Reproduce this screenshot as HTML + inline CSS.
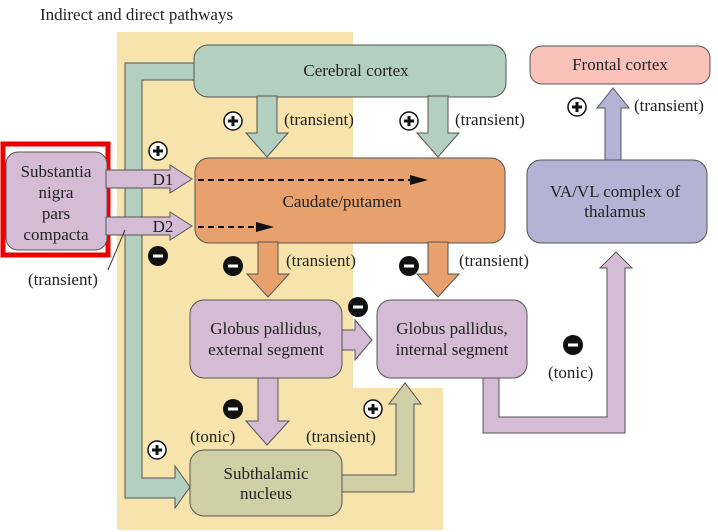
<!DOCTYPE html>
<html><head><meta charset="utf-8"><style>
html,body{margin:0;padding:0;background:#fff}
svg{display:block}
svg text{font-family:"Liberation Serif",serif;font-size:17px;fill:#222}
.b{stroke:#555;stroke-width:1}
</style></head><body>
<svg width="718" height="532" viewBox="0 0 718 532" font-family="Liberation Serif, serif" font-size="17">
<text x="40" y="20" style="font-size:17px">Indirect and direct pathways</text>
<polygon points="117,32 353,32 353,388 443,388 443,530 117,530" fill="#f6e4ac"/>
<polygon class="b" fill="#b3cfc0" points="200,63 125,63 125,498 175,498 175,508 190,487 175,466 175,478 142,478 142,80 200,80"/>
<rect class="b" x="194" y="45" width="312" height="52" rx="14" fill="#b3cfc0"/>
<polygon class="b" fill="#b3cfc0" points="257,96 277,96 277,133 288,133 267,157 246,133 257,133"/>
<polygon class="b" fill="#b3cfc0" points="428,96 448,96 448,133 459,133 438,157 417,133 428,133"/>
<rect x="195" y="64" width="2" height="15" fill="#b3cfc0"/>
<text x="356" y="76" text-anchor="middle">Cerebral cortex</text>
<rect x="3" y="144" width="105" height="111" fill="none" stroke="#e00" stroke-width="5"/>
<rect class="b" x="6" y="152" width="101" height="98" rx="12" fill="#d4bcd4"/>
<polygon class="b" fill="#d4bcd4" points="106,170 170,170 170,165 192,179 170,193 170,188 106,188"/>
<polygon class="b" fill="#d4bcd4" points="106,217 170,217 170,212 192,226 170,240 170,235 106,235"/>
<text x="56" y="177" text-anchor="middle">Substantia</text>
<text x="56" y="198" text-anchor="middle">nigra</text>
<text x="56" y="219" text-anchor="middle">pars</text>
<text x="56" y="240" text-anchor="middle">compacta</text>
<text x="163" y="185" text-anchor="middle">D1</text>
<text x="163" y="232" text-anchor="middle">D2</text>
<line x1="125" y1="230" x2="108" y2="270" stroke="#333"/>
<text x="28" y="285">(transient)</text>
<rect class="b" x="195" y="158" width="310" height="85" rx="14" fill="#e8a06c"/>
<line x1="198" y1="180" x2="412" y2="180" stroke="#111" stroke-width="2" stroke-dasharray="6,4"/>
<polygon points="410,175 428,180 410,185" fill="#111"/>
<line x1="198" y1="227" x2="258" y2="227" stroke="#111" stroke-width="2" stroke-dasharray="6,4"/>
<polygon points="256,222 274,227 256,232" fill="#111"/>
<text x="342" y="207" text-anchor="middle">Caudate/putamen</text>
<polygon class="b" fill="#e8a06c" points="258,242 278,242 278,274 289,274 268,297 247,274 258,274"/>
<polygon class="b" fill="#e8a06c" points="428,242 448,242 448,274 459,274 438,297 417,274 428,274"/>
<polygon class="b" fill="#d4bcd4" points="340,330 355,330 355,320 372,340 355,360 355,350 340,350"/>
<polygon class="b" fill="#d4bcd4" points="258,376 278,376 278,421 289,421 267,445 246,421 258,421"/>
<rect class="b" x="190" y="300" width="152" height="78" rx="14" fill="#d4bcd4"/>
<text x="266" y="334" text-anchor="middle">Globus pallidus,</text>
<text x="266" y="355" text-anchor="middle">external segment</text>
<polygon class="b" fill="#d4bcd4" points="483,376 499,376 499,417 607,417 607,268 600,268 616,252 632,268 625,268 625,433 483,433"/>
<rect class="b" x="377" y="300" width="150" height="78" rx="14" fill="#d4bcd4"/>
<text x="452" y="334" text-anchor="middle">Globus pallidus,</text>
<text x="452" y="355" text-anchor="middle">internal segment</text>
<polygon class="b" fill="#d0cfa5" points="340,475 396,475 396,404 389,404 405,383 421,404 414,404 414,492 340,492"/>
<rect class="b" x="190" y="450" width="152" height="66" rx="14" fill="#d0cfa5"/>
<text x="266" y="479" text-anchor="middle">Subthalamic</text>
<text x="266" y="499" text-anchor="middle">nucleus</text>
<polygon class="b" fill="#b3b3d6" points="605,162 621,162 621,108 629,108 613,88 597,108 605,108"/>
<rect class="b" x="527" y="160" width="180" height="83" rx="14" fill="#b3b3d6"/>
<text x="615" y="197" text-anchor="middle">VA/VL complex of</text>
<text x="615" y="217" text-anchor="middle">thalamus</text>
<rect class="b" x="530" y="46" width="180" height="38" rx="12" fill="#f8c2b9"/>
<text x="620" y="70" text-anchor="middle">Frontal cortex</text>
<text x="284" y="125">(transient)</text>
<text x="455" y="125">(transient)</text>
<text x="634" y="111">(transient)</text>
<text x="286" y="266">(transient)</text>
<text x="459" y="266">(transient)</text>
<text x="306" y="442">(transient)</text>
<text x="190" y="442">(tonic)</text>
<text x="548" y="378">(tonic)</text>
<g fill="#fff" stroke="#111" stroke-width="1.5">
<circle cx="233" cy="121" r="9"/><circle cx="409" cy="121" r="9"/><circle cx="158" cy="151" r="9"/>
<circle cx="577" cy="107" r="9"/><circle cx="373" cy="409" r="9"/><circle cx="157" cy="450" r="9"/>
</g>
<g fill="#111">
<circle cx="158" cy="256" r="10"/><circle cx="233" cy="266" r="10"/><circle cx="409" cy="266" r="10"/>
<circle cx="358" cy="307" r="10"/><circle cx="233" cy="409" r="10"/><circle cx="573" cy="345" r="10"/>
</g>
<g stroke="#111" stroke-width="3">
<path d="M228,121h10M233,116v10M404,121h10M409,116v10M153,151h10M158,146v10M572,107h10M577,102v10M368,409h10M373,404v10M152,450h10M157,445v10"/>
</g>
<g stroke="#fff" stroke-width="3">
<path d="M153,256h10M228,266h10M404,266h10M353,307h10M228,409h10M568,345h10"/>
</g>
</svg>
</body></html>
